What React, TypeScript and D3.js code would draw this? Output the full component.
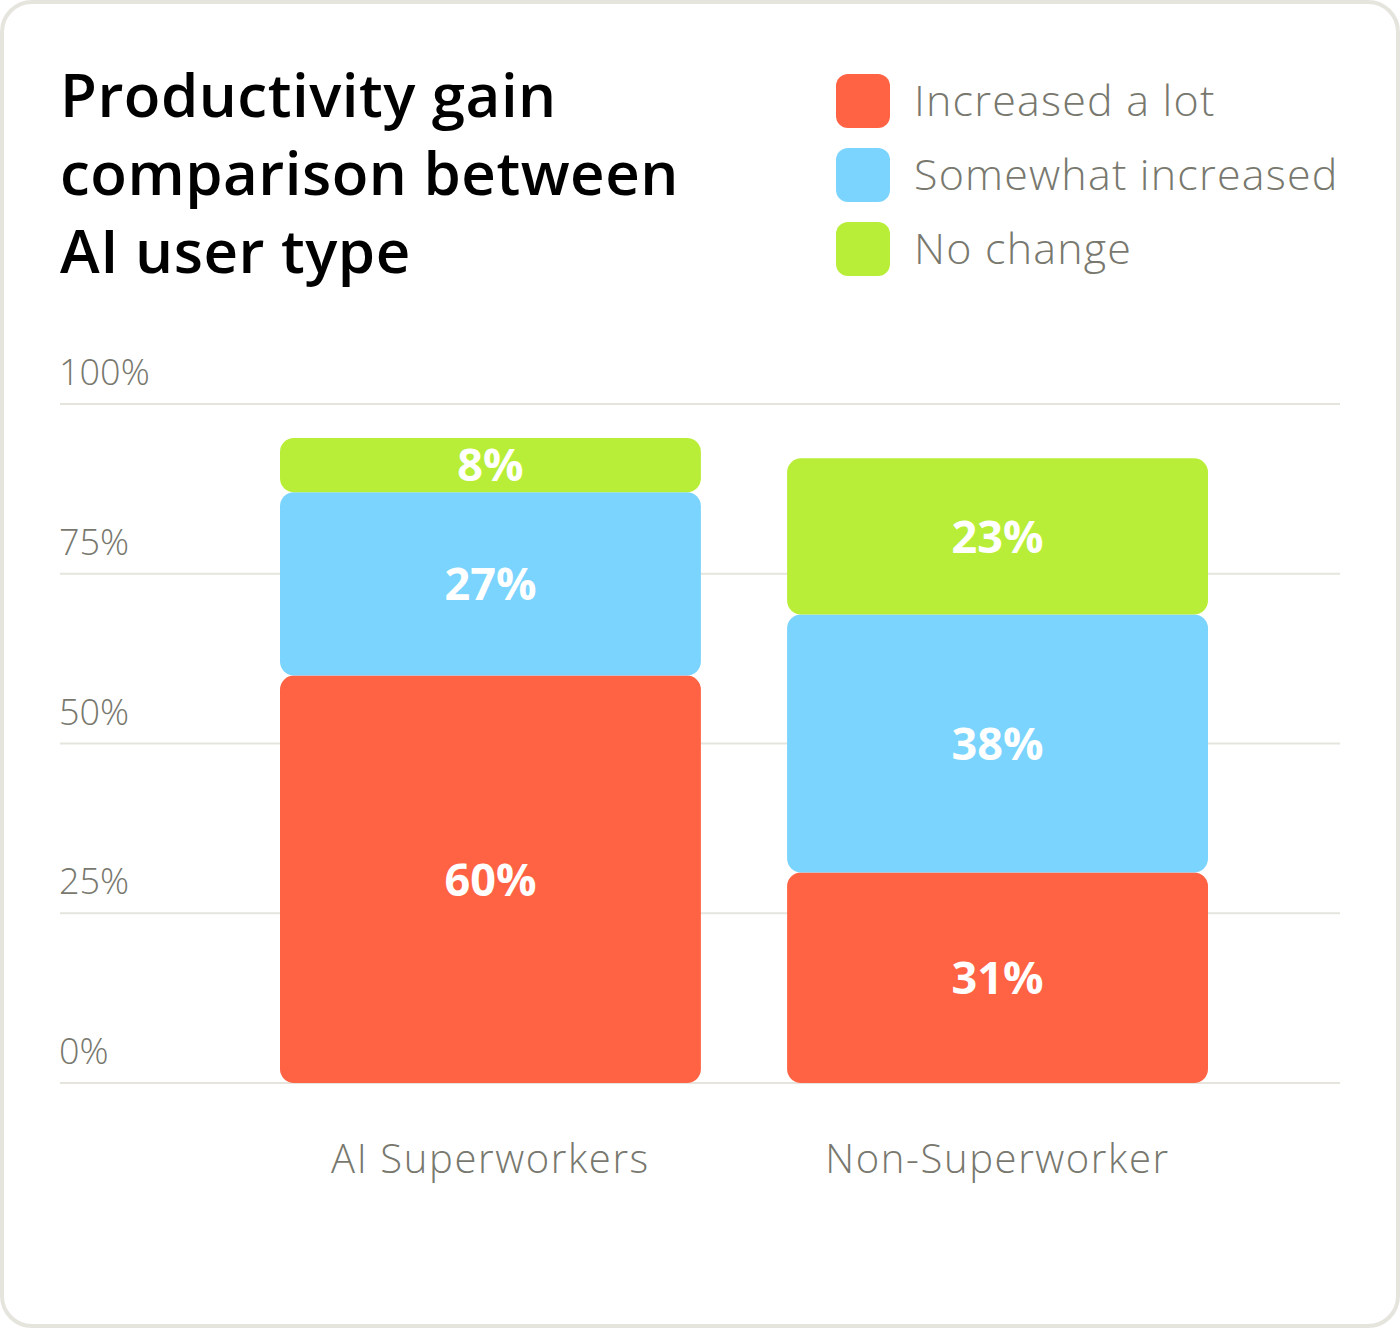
import { useRef, useEffect } from 'react';
import * as d3 from 'd3';

const CATEGORIES = ['AI Superworkers', 'Non-Superworker'];
const SERIES = ['Increased a lot', 'Somewhat increased', 'No change'];
const INCREASED_A_LOT = [60, 31];
const SOMEWHAT_INCREASED = [27, 38];
const NO_CHANGE = [8, 23];
const Y_TICKS = [0, 25, 50, 75, 100];

const COLORS = ['#ff6344', '#7ad4fe', '#b9ee38'];
const TITLE_LINES = ['Productivity gain', 'comparison between', 'AI user type'];

const WIDTH = 1400;
const HEIGHT = 1328;
const FONT = "'Open Sans', 'Noto Sans', sans-serif";

export default function App() {
  const svgRef = useRef<SVGSVGElement>(null);

  useEffect(() => {
    if (!svgRef.current) return;
    const svg = d3.select(svgRef.current);
    svg.selectAll('*').remove();

    const rows = CATEGORIES.map((c, i) => ({
      category: c,
      [SERIES[0]]: INCREASED_A_LOT[i],
      [SERIES[1]]: SOMEWHAT_INCREASED[i],
      [SERIES[2]]: NO_CHANGE[i],
    })) as Record<string, number | string>[];

    const stacked = d3.stack<Record<string, number | string>>()
      .keys(SERIES)
      .value((d, key) => d[key] as number)(rows);

    const plot = { left: 60, right: 1340, top: 404, bottom: 1083 };

    const x = d3.scaleBand()
      .domain(CATEGORIES)
      .range([280, 1208])
      .paddingInner(0.17);

    const y = d3.scaleLinear()
      .domain([0, 100])
      .range([plot.bottom, plot.top]);

    // Card
    svg.append('rect')
      .attr('x', 2)
      .attr('y', 2)
      .attr('width', WIDTH - 4)
      .attr('height', HEIGHT - 4)
      .attr('rx', 30)
      .attr('fill', '#ffffff')
      .attr('stroke', '#e5e5de')
      .attr('stroke-width', 4);

    // Title
    svg.append('text')
      .attr('font-family', FONT)
      .attr('font-weight', 600)
      .attr('font-size', 60)
      .attr('fill', '#000000')
      .attr('letter-spacing', 0.5)
      .selectAll('tspan')
      .data(TITLE_LINES)
      .join('tspan')
      .attr('x', 60)
      .attr('y', (_, i) => 117 + i * 78)
      .text((d) => d);

    // Legend
    const legend = svg.append('g').attr('transform', 'translate(836,74)');
    const item = legend.selectAll('g')
      .data(SERIES)
      .join('g')
      .attr('transform', (_, i) => 'translate(0,' + i * 74 + ')');
    item.append('rect')
      .attr('width', 54)
      .attr('height', 54)
      .attr('rx', 12)
      .attr('fill', (_, i) => COLORS[i]);
    item.append('text')
      .attr('x', 78)
      .attr('y', 42)
      .attr('font-family', FONT)
      .attr('font-weight', 300)
      .attr('font-size', 43)
      .attr('letter-spacing', 1.2)
      .attr('fill', '#78786e')
      .text((d) => d);

    // Gridlines + y labels
    const grid = svg.append('g');
    grid.selectAll('line')
      .data(Y_TICKS)
      .join('line')
      .attr('x1', plot.left)
      .attr('x2', plot.right)
      .attr('y1', (d) => y(d))
      .attr('y2', (d) => y(d))
      .attr('stroke', '#e5e5de')
      .attr('stroke-width', 2);
    grid.selectAll('text')
      .data(Y_TICKS)
      .join('text')
      .attr('x', plot.left - 1)
      .attr('y', (d) => y(d) - 19)
      .attr('font-family', FONT)
      .attr('font-weight', 300)
      .attr('font-size', 36)
      .attr('fill', '#78786e')
      .text((d) => d + '%');

    // Stacked segments
    stacked.forEach((layer, li) => {
      const g = svg.append('g');
      g.selectAll('rect')
        .data(layer)
        .join('rect')
        .attr('x', (d) => x(d.data.category as string)!)
        .attr('width', x.bandwidth())
        .attr('y', (d) => y(d[1]))
        .attr('height', (d) => y(d[0]) - y(d[1]))
        .attr('rx', 14)
        .attr('fill', COLORS[li]);
      g.selectAll('text')
        .data(layer)
        .join('text')
        .attr('x', (d) => x(d.data.category as string)! + x.bandwidth() / 2)
        .attr('y', (d) => (y(d[0]) + y(d[1])) / 2)
        .attr('dy', '0.36em')
        .attr('text-anchor', 'middle')
        .attr('font-family', FONT)
        .attr('font-weight', 700)
        .attr('font-size', 45)
        .attr('fill', '#ffffff')
        .text((d) => (d[1] - d[0]) + '%');
    });

    // X labels
    svg.append('g')
      .selectAll('text')
      .data(CATEGORIES)
      .join('text')
      .attr('x', (d) => x(d)! + x.bandwidth() / 2)
      .attr('y', 1173)
      .attr('text-anchor', 'middle')
      .attr('font-family', FONT)
      .attr('font-weight', 300)
      .attr('font-size', 40)
      .attr('letter-spacing', 1.6)
      .attr('fill', '#78786e')
      .text((d) => d);
  }, []);

  return (
    <div>
      <style>{'body{margin:0}'}</style>
      <svg ref={svgRef} width={WIDTH} height={HEIGHT} viewBox={'0 0 ' + WIDTH + ' ' + HEIGHT} style={{ display: 'block' }} />
    </div>
  );
}
